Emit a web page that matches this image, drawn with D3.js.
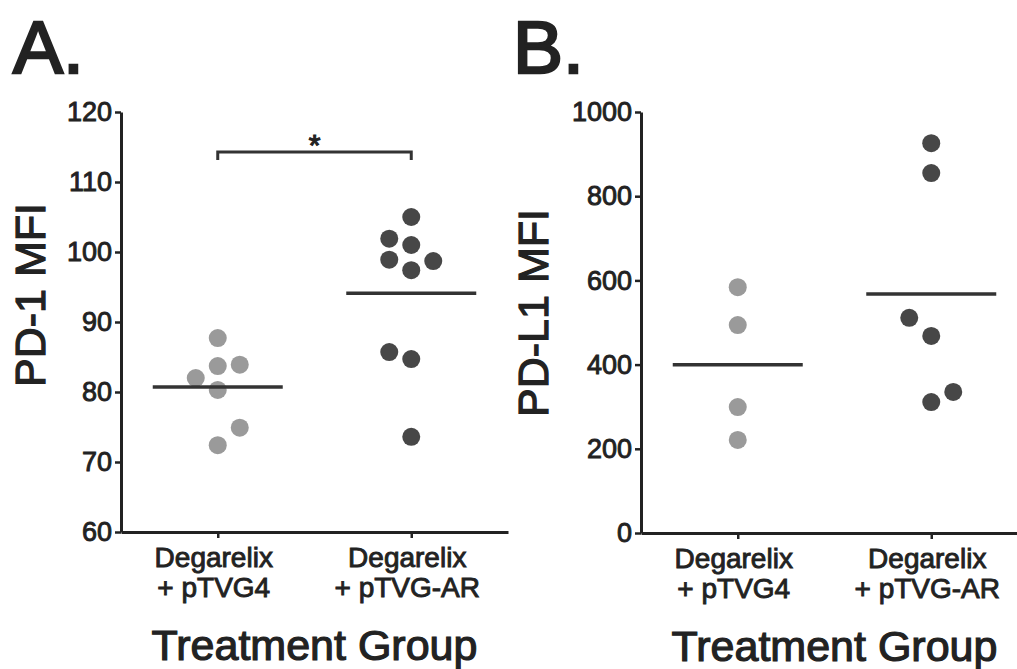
<!DOCTYPE html>
<html>
<head>
<meta charset="utf-8">
<script src="https://cdn.jsdelivr.net/npm/d3@7"></script>
<style>
  body { margin: 0; background: #fff; }
  svg { display: block; }
  text { font-family: "Liberation Sans", Arial, Helvetica, sans-serif; fill: #222; stroke: #222; stroke-width: 0.9px; }
</style>
</head>
<body>
<svg id="chart" width="1017" height="669"></svg>
<script>
// ---- data -------------------------------------------------------------
const categories = ["Degarelix + pTVG4", "Degarelix + pTVG-AR"];
const catLine1 = ["Degarelix", "Degarelix"];
const catLine2 = ["+ pTVG4", "+ pTVG-AR"];

// PD-1 MFI per animal (listed in plotting order; overlaps are dodged in this order)
const pd1Pt4 = [83.7, 80.3, 87.7, 72.4, 82.0, 74.9, 83.9];
const pd1Ar  = [105.0, 101.0, 97.4, 84.7, 73.6, 101.9, 98.7, 85.7, 98.9];

// PD-L1 MFI per animal
const pdl1Pt4 = [584, 494, 299, 221];
const pdl1Ar  = [926, 855, 468, 311, 511, 335];

const pd1Ticks  = [60, 70, 80, 90, 100, 110, 120];
const pdl1Ticks = [0, 200, 400, 600, 800, 1000];

const pd1Title  = "PD-1 MFI";
const pdl1Title = "PD-L1 MFI";
const xTitle = "Treatment Group";
const panelLetters = ["A.", "B."];
const sigMark = "*";

// ---- layout -----------------------------------------------------------
const svg = d3.select("#chart");
const plotW = 387;
const r = 9, slotStep = 22;
const colors = ["#9a9a9a", "#474747"];
const ink = "#222";

// Greedy dodge: a point that would overlap an earlier one in its column
// moves to a side slot, alternating which side is tried first.
function dodge(values, y) {
  const placed = [];
  let pref = -1;
  return values.map(v => {
    const py = y(v);
    const free = s => placed.every(p => p.slot !== s || Math.abs(p.py - py) >= 2 * r + 2);
    let slot = 0;
    if (!free(0)) {
      for (let k = 1; k < 6; k++) {
        if (free(pref * k)) { slot = pref * k; break; }
        if (free(-pref * k)) { slot = -pref * k; break; }
      }
      pref = -pref;
    }
    placed.push({ py, slot });
    return { v, py, slot };
  });
}

function panel(opts) {
  const g = svg.append("g").attr("transform", `translate(${opts.left},${opts.top})`);

  const x = d3.scalePoint().domain(categories).range([0, plotW]).padding(0.5);
  const y = d3.scaleLinear().domain(opts.domain).range([opts.h, 0]);

  // y axis
  const ya = g.append("g")
    .call(d3.axisLeft(y).tickValues(opts.ticks).tickFormat(d3.format("d"))
      .tickSizeInner(6).tickSizeOuter(0).tickPadding(3));
  ya.select(".domain").attr("stroke", ink).attr("stroke-width", 3);
  ya.selectAll(".tick line").attr("stroke", ink).attr("stroke-width", 2.5);
  ya.selectAll(".tick text").style("font-size", "27px").attr("fill", ink);

  // x axis
  const xa = g.append("g").attr("transform", `translate(0,${opts.h})`)
    .call(d3.axisBottom(x).tickSizeInner(6).tickSizeOuter(0).tickFormat(""));
  xa.select(".domain").attr("stroke", ink).attr("stroke-width", 3);
  xa.selectAll(".tick line").attr("stroke", ink).attr("stroke-width", 2.5);

  // category labels (two lines)
  categories.forEach((c, i) => {
    g.append("text").attr("x", x(c) - 4).attr("y", opts.h + 35)
      .attr("text-anchor", "middle").style("font-size", "28px").text(catLine1[i]);
    g.append("text").attr("x", x(c) - 4).attr("y", opts.h + 65)
      .attr("text-anchor", "middle").style("font-size", "28px").text(catLine2[i]);
  });

  // x title
  g.append("text").attr("x", plotW / 2).attr("y", opts.h + 128)
    .attr("text-anchor", "middle").style("font-size", "43px").style("stroke-width", "1.2px").text(xTitle);

  // y title
  g.append("text")
    .attr("transform", `translate(${opts.titleX},${opts.titleY}) rotate(-90)`)
    .attr("text-anchor", "middle").style("font-size", "43px").style("stroke-width", "1.2px").text(opts.title);

  // points and mean lines
  opts.series.forEach((vals, i) => {
    const cx = x(categories[i]);
    const pts = dodge(vals, y);
    g.append("g").selectAll("circle").data(pts).join("circle")
      .attr("cx", d => cx + d.slot * slotStep)
      .attr("cy", d => d.py)
      .attr("r", r)
      .attr("fill", colors[i]);
    const m = d3.mean(vals);
    g.append("line")
      .attr("x1", cx - 65).attr("x2", cx + 65)
      .attr("y1", y(m)).attr("y2", y(m))
      .attr("stroke", "#333").attr("stroke-width", 3.5);
  });

  if (opts.sig) {
    const yb = y(opts.sig.level);
    const x1 = x(categories[0]), x2 = x(categories[1]);
    g.append("path")
      .attr("d", `M${x1},${yb + 8}V${yb}H${x2}V${yb + 8}`)
      .attr("fill", "none").attr("stroke", "#333").attr("stroke-width", 3);
    g.append("text").attr("x", (x1 + x2) / 2).attr("y", yb + 3)
      .attr("text-anchor", "middle").style("font-size", "30px").style("stroke-width", "1.2px").text(sigMark);
  }

  // panel letter
  svg.append("text").attr("x", opts.letterX).attr("y", 73)
    .style("font-size", "75px").style("stroke-width", "2.5px").text(opts.letter);
}

panel({
  left: 121, top: 112, h: 420,
  domain: [60, 120], ticks: pd1Ticks,
  title: pd1Title, titleX: -76, titleY: 183,
  series: [pd1Pt4, pd1Ar],
  sig: { level: 114.3 },
  letter: panelLetters[0], letterX: 13
});

panel({
  left: 641, top: 112, h: 421,
  domain: [0, 1000], ticks: pdl1Ticks,
  title: pdl1Title, titleX: -93, titleY: 201,
  series: [pdl1Pt4, pdl1Ar],
  letter: panelLetters[1], letterX: 513
});
</script>
</body>
</html>
